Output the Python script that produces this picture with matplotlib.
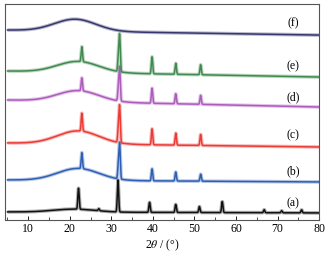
import numpy as np
import matplotlib
matplotlib.use("Agg")
import matplotlib.pyplot as plt
from matplotlib.ticker import MultipleLocator

plt.rcParams['font.family'] = ['Liberation Serif', 'DejaVu Serif']
plt.rcParams['mathtext.fontset'] = 'stix'

# pattern labels, colours and read-off values (intensity in arbitrary units)
labels = ["(a)", "(b)", "(c)", "(d)", "(e)", "(f)"]
colors = ["#111111", "#2f5fb5", "#ec3b35", "#ad5bbd", "#3f8a4f", "#37376f"]
offsets = [43, 74, 109, 149, 179, 221]       # baseline level at 80 deg
left_rise = [1, 2, 4, 7, 6, 5]               # extra baseline level at 5 deg
hump_center = [21.0, 22.0, 22.0, 22.0, 22.0, 21.3]
hump_height = [3, 12, 13, 11, 11, 12]
label_y = [53, 85, 121, 159, 190, 233]

peaks_a_pos = [22.1, 27.0, 31.6, 39.2, 45.5, 51.2, 56.7, 66.8, 71.0, 75.8]
peaks_a_h = [21, 2, 32, 10, 8, 6, 11, 3, 2, 3]

peaks_pos = [22.9, 31.7, 32.0, 39.8, 45.5, 51.5]
peaks_b_h = [16, 14, 34, 12, 9, 7]
peaks_c_h = [18, 15, 35, 16, 12, 11]
peaks_d_h = [13, 13, 32, 15, 10, 9]
peaks_e_h = [15, 15, 35, 17, 11, 10]

peak_sets = [
    (peaks_a_pos, peaks_a_h),
    (peaks_pos, peaks_b_h),
    (peaks_pos, peaks_c_h),
    (peaks_pos, peaks_d_h),
    (peaks_pos, peaks_e_h),
    ([], []),
]

x = np.linspace(5, 80, 4000)


def pattern(i):
    y = offsets[i] + left_rise[i] * (80 - x) / 75.0
    y = y + hump_height[i] * np.exp(-(x - hump_center[i]) ** 2 / (2 * 5.0 ** 2))
    pos, hts = peak_sets[i]
    for p, h in zip(pos, hts):
        y = y + h * np.exp(-(x - p) ** 2 / (2 * 0.16 ** 2))
    return y


fig = plt.figure(figsize=(3.32, 2.56), dpi=100)
ax = fig.add_axes([0.015, 0.141, 0.946, 0.843])

for i in range(len(labels)):
    y = pattern(i)
    # soft wide underlay stands in for the noisy trace thickness
    ax.plot(x, y, color=colors[i], lw=2.6, alpha=0.35, solid_capstyle='butt')
    ax.plot(x, y, color=colors[i], lw=1.1)
    ax.text(73.7, label_y[i], labels[i], fontsize=8.5, ha='center', va='center')

ax.set_xlim(4.4, 80)
ax.set_ylim(36, 252)
ax.set_yticks([])
ax.xaxis.set_major_locator(MultipleLocator(10))
ax.xaxis.set_minor_locator(MultipleLocator(5))
ax.set_xticks([10, 20, 30, 40, 50, 60, 70, 80])
ax.tick_params(axis='x', which='major', direction='in', length=3, width=0.6,
               labelsize=8.5, pad=2)
ax.tick_params(axis='x', which='minor', direction='in', length=2, width=0.5)
for s in ax.spines.values():
    s.set_color('#555555')
    s.set_linewidth(0.8)
ax.set_xlabel(r'2$\theta$ / (°)', fontsize=8.5, labelpad=2)

fig.savefig("out.png", dpi=100)
